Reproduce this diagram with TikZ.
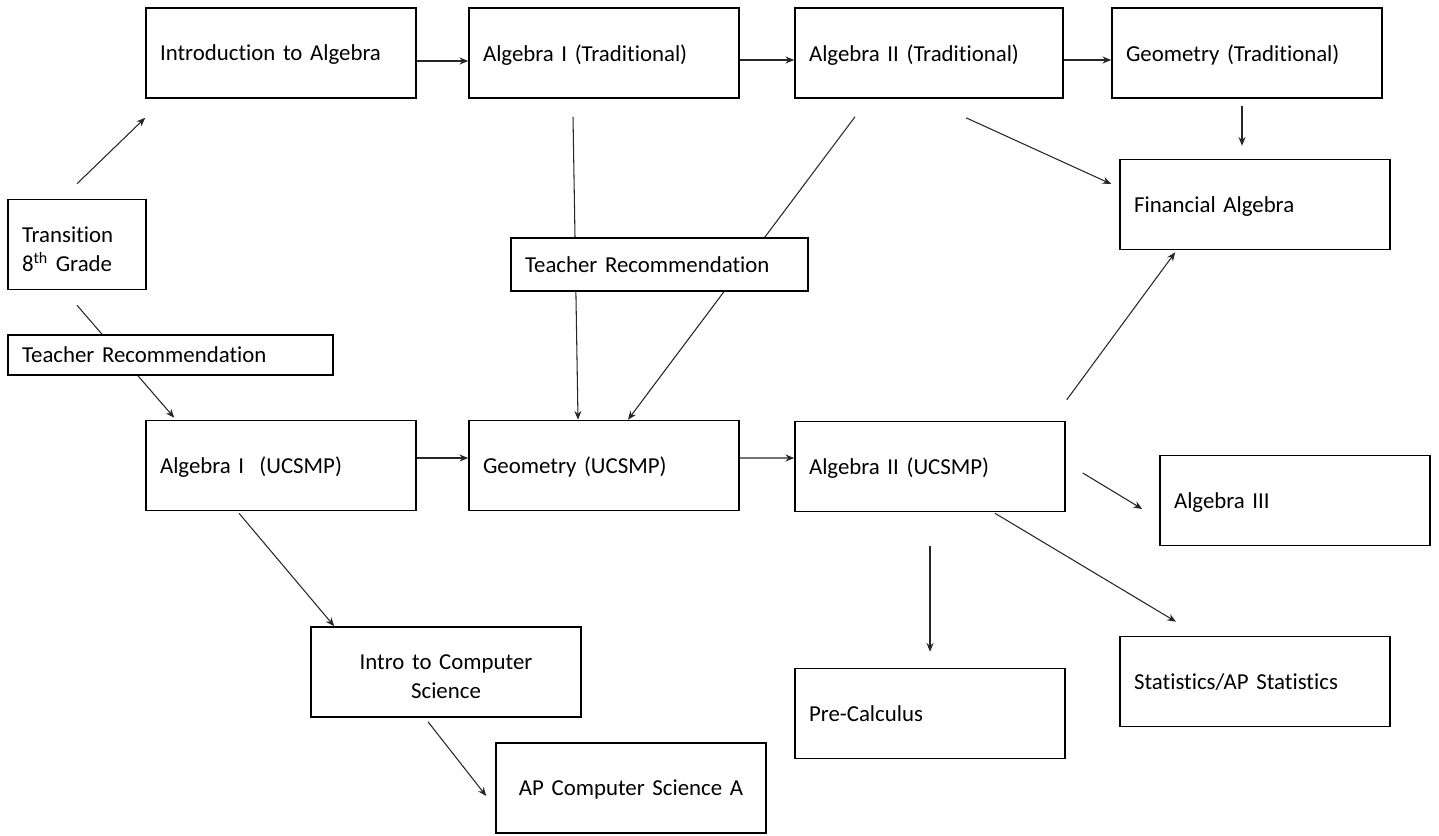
\documentclass[tikz,border=0pt]{standalone}
\usepackage{fontspec}
\setmainfont{Carlito}[Ligatures=NoCommon]
\usetikzlibrary{arrows.meta}
\pgfdeclarelayer{background}
\pgfsetlayers{background,main}

\tikzset{
  course/.style={draw, fill=white, line width=0.9pt, text width=4.84cm, inner xsep=0.28cm,
    minimum height=1.8cm, align=left, text depth=0pt, font=\fontsize{13}{16.4}\selectfont},
  twoline/.style={text depth=11.3pt},
  recbox/.style={course, minimum height=0.8cm},
  arr/.style={-{Stealth[length=5pt,width=4pt]}, line width=0.6pt, black!85}
}

\begin{document}
\begin{tikzpicture}[x=0.02cm, y=-0.02cm]
        \useasboundingbox (0,0) rectangle (1439,835);

        % top row
        \node[course] (introalg) at (281,53) {Introduction to Algebra};
        \node[course] (algIt) at (604,53) {Algebra I (Traditional)};
        \node[course, text width=4.8cm] (algIIt) at (929,53) {Algebra II (Traditional)};
        \node[course] (geomt) at (1247,53) {Geometry (Traditional)};
        \node[course] (finalg) at (1255,204.5) {Financial Algebra};

        % left side
        \node[course, twoline, text width=2.2cm] (trans) at (77,244.5) {Transition\\8\textsuperscript{th} Grade};
        \node[recbox, text width=5.94cm] (teachA) at (170.5,355) {Teacher Recommendation};
        \node[recbox, text width=5.38cm, minimum height=1.06cm] (teachB) at (659.5,264.5) {Teacher Recommendation};

        % middle row
        \node[course] (algIu) at (281,465.5) {Algebra I\ \ (UCSMP)};
        \node[course] (geomu) at (604,465.5) {Geometry (UCSMP)};
        \node[course] (algIIu) at (930,466.5) {Algebra II (UCSMP)};
        \node[course] (algIII) at (1295,500.5) {Algebra III};

        % bottom
        \node[course, twoline, align=center] (introcs) at (446,672) {Intro to Computer\\Science};
        \node[course, align=center] (apcs) at (631,788) {AP Computer Science A};
        \node[course] (precalc) at (930,713.5) {Pre-Calculus};
        \node[course] (stats) at (1255,681.5) {Statistics/AP Statistics};

        \begin{pgfonlayer}{background}
        \draw[arr] ([yshift=0.3cm]trans.north) -- ([yshift=-0.38cm]introalg.south west);
        \draw[arr] ([yshift=-0.16cm]introalg.east) -- ([yshift=-0.16cm]algIt.west);
        \draw[arr] ([yshift=-0.14cm]algIt.east) -- ([yshift=-0.14cm]algIIt.west);
        \draw[arr] ([yshift=-0.14cm]algIIt.east) -- ([yshift=-0.14cm]geomt.west);
        \draw[arr] ([xshift=-0.1cm,yshift=-0.14cm]geomt.south) -- ++(0,40);
        \draw[arr] ([xshift=0.74cm,yshift=-0.38cm]algIIt.south) -- ([xshift=-0.16cm,yshift=0.41cm]finalg.west);
        \draw[arr] ([xshift=-0.62cm,yshift=-0.36cm]algIt.south) -- ([xshift=-0.52cm]geomu.north);
        \draw[arr] ([xshift=-1.48cm,yshift=-0.36cm]algIIt.south) -- ([xshift=0.48cm]geomu.north);
        \draw[arr] ([yshift=-0.3cm]trans.south) -- ([xshift=0.58cm,yshift=0.04cm]algIu.north west);
        \draw[arr] ([yshift=0.15cm]algIu.east) -- ([yshift=0.15cm]geomu.west);
        \draw[arr] ([yshift=0.15cm]geomu.east) -- ([yshift=0.17cm]algIIu.west);
        \draw[arr] ([xshift=0.02cm,yshift=0.42cm]algIIu.north east) -- ([xshift=1.12cm,yshift=-0.04cm]finalg.south west);
        \draw[arr] ([xshift=0.34cm,yshift=-0.13cm]algIIu.east) -- ([xshift=-0.34cm,yshift=-0.17cm]algIII.west);
        \draw[arr] ([xshift=1.3cm,yshift=-0.02cm]algIIu.south) -- ([xshift=-1.58cm,yshift=0.28cm]stats.north);
        \draw[arr] ([yshift=-0.68cm]algIIu.south) -- ([yshift=0.32cm]precalc.north);
        \draw[arr] ([xshift=-0.84cm,yshift=-0.04cm]algIu.south) -- ([xshift=0.48cm]introcs.north west);
        \draw[arr] ([xshift=-0.36cm,yshift=-0.08cm]introcs.south) -- ([xshift=-0.18cm,yshift=-0.16cm]apcs.west);
        \end{pgfonlayer}

    \end{tikzpicture}
\end{document}
